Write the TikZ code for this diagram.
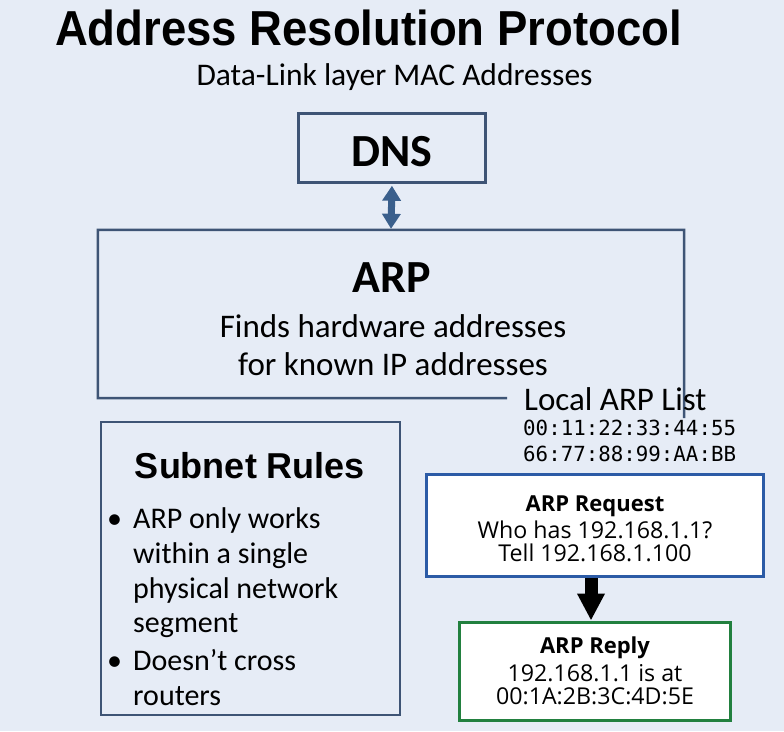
\documentclass[tikz,border=0pt]{standalone}
\usepackage{fontspec}
\setmainfont{Carlito}
\newfontfamily\headfont{Liberation Sans}
\newfontfamily\boxfont{Open Sans}
\newfontfamily\macfont{DejaVu Sans Mono}
\usetikzlibrary{arrows.meta}
\definecolor{bg}{HTML}{E6ECF6}
\definecolor{slate}{HTML}{3E5475}
\definecolor{arrowblue}{HTML}{3A5F8C}
\definecolor{reqblue}{HTML}{2C5BA6}
\definecolor{repgreen}{HTML}{22803F}
\newcommand{\fs}[1]{\fontsize{#1}{#1}\selectfont}
\tikzset{
  txt/.style={inner sep=0pt, anchor=base},
  txtl/.style={inner sep=0pt, anchor=base west},
  plainbox/.style={draw=slate, line width=2.5pt, fill=bg, inner sep=0pt},
  reqbox/.style={draw=reqblue, line width=3pt, fill=white, inner sep=0pt},
  repbox/.style={draw=repgreen, line width=3pt, fill=white, inner sep=0pt},
  dblarrow/.style={arrowblue, line width=7pt,
     {Triangle[width=18pt,length=15pt]}-{Triangle[width=18pt,length=15pt]}, shorten <=2pt, shorten >=1pt},
  downarrow/.style={black, line width=13pt, -{Triangle[width=26pt,length=27pt]}}
}
\begin{document}
\begin{tikzpicture}[x=1pt,y=-1pt]
\fill[bg] (0,0) rectangle (784,731);
\useasboundingbox (0,0) rectangle (784,731);

% title
\node[txt] (title) at (368.5,45) {\headfont\bfseries\fs{45.5}\scalebox{1}[1.08]{Address Resolution Protocol}};
\node[txt] (sub) at (394.5,85) {\fs{31.5}Data-Link layer MAC Addresses};

% DNS
\node[plainbox, minimum width=187pt, minimum height=69pt] (dns) at (392,148) {};
\node[txt] (dnst) at (392,166) {\bfseries\fs{46}DNS};

% ARP box (open outline)
\node[inner sep=0pt, minimum width=586pt, minimum height=168pt] (arp) at (391,314) {};
\draw[slate, line width=2.5pt] (507,398) -- (arp.south west) -- (arp.north west) -- (arp.north east) -- ([yshift=-20pt]arp.south east);
\node[txt] (arpt) at (392,292) {\bfseries\fs{46}ARP};
\node[txt] (arpd1) at (393,337) {\fs{33}Finds hardware addresses};
\node[txt] (arpd2) at (393,375) {\fs{33}for known IP addresses};

\draw[dblarrow] (dns.south) -- (arp.north);

% Local ARP list
\node[txtl] (local) at (524,410) {\fs{33}Local ARP List};
\node[txtl] (mac1) at (523,435) {\macfont\fs{20.8}00:11:22:33:44:55};
\node[txtl] (mac2) at (523,461) {\macfont\fs{20.8}66:77:88:99:AA:BB};

% Subnet rules
\draw[slate, line width=2.5pt] (101,422) rectangle (400,715);
\node[txt] (subt) at (250,478) {\headfont\bfseries\fs{36}Subnet Rules};
\node[txtl] (b1) at (107,528) {\fs{30}•};
\node[txtl] (l1) at (133,528) {\fs{30}ARP only works};
\node[txtl] (l2) at (133,563) {\fs{30}within a single};
\node[txtl] (l3) at (133,598) {\fs{30}physical network};
\node[txtl] (l4) at (133,632) {\fs{30}segment};
\node[txtl] (b2) at (107,670) {\fs{30}•};
\node[txtl] (l5) at (133,670) {\fs{30}Doesn’t cross};
\node[txtl] (l6) at (133,705) {\fs{30}routers};

% ARP request
\node[reqbox, minimum width=337pt, minimum height=102pt] (req) at (594.5,525.5) {};
\node[txt] (reqt) at (595,511) {\boxfont\bfseries\fs{22}ARP Request};
\node[txt] (req1) at (595,538) {\boxfont\fs{23.2}Who has 192.168.1.1?};
\node[txt] (req2) at (595,561) {\boxfont\fs{23.2}Tell 192.168.1.100};

% ARP reply
\node[repbox, minimum width=271pt, minimum height=98pt] (rep) at (594.5,671) {};
\node[txt] (rept) at (595,653) {\boxfont\bfseries\fs{22}ARP Reply};
\node[txt] (rep1) at (595,681) {\boxfont\fs{23.2}192.168.1.1 is at};
\node[txt] (rep2) at (595,704) {\boxfont\fs{23.2}00:1A:2B:3C:4D:5E};

\draw[downarrow] ([xshift=-3.5pt]req.south) -- ([xshift=-3.5pt]rep.north);
\end{tikzpicture}
\end{document}
